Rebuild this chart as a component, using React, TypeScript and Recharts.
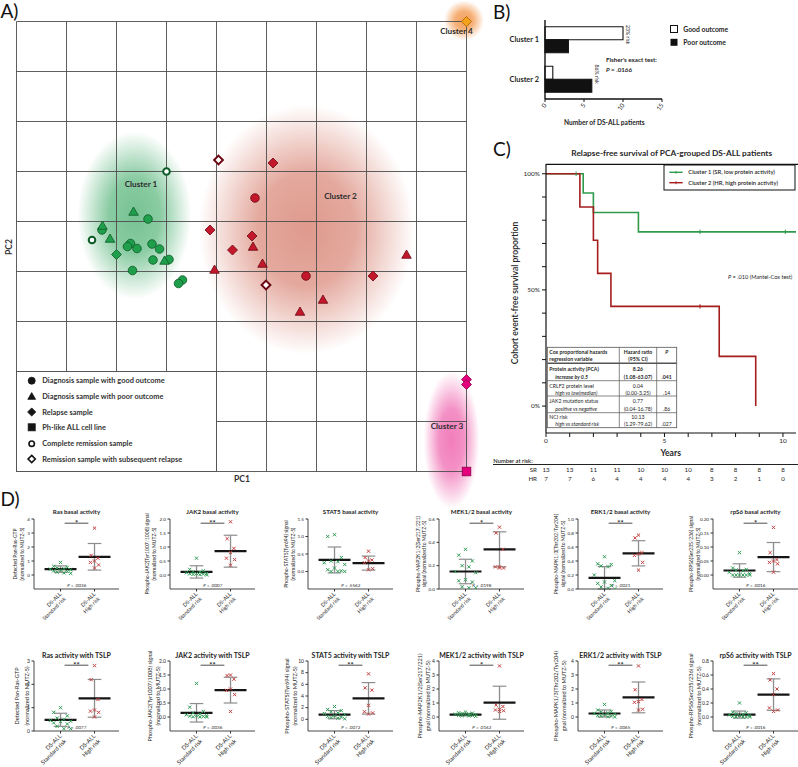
import React from "react";
import {
  ScatterChart,
  ComposedChart,
  BarChart,
  Scatter,
  Bar,
  Line,
  XAxis,
  YAxis,
  ReferenceArea,
  ReferenceDot,
  ReferenceLine,
} from "recharts";

const FONT = "Lato, 'Open Sans', 'DejaVu Sans', sans-serif";
const INK = "#262626";

/* ---------- A) PCA of protein activity ---------- */
const pcaTicks = [0, 1, 2, 3, 4, 5, 6, 7, 8, 9];

const c1Good = [
  { x: 2.63, y: 5.05 }, { x: 1.71, y: 4.83 }, { x: 2.28, y: 4.56 }, { x: 2.22, y: 4.5 },
  { x: 2.41, y: 4.46 }, { x: 2.71, y: 4.55 }, { x: 2.86, y: 4.45 }, { x: 2.73, y: 4.23 },
  { x: 3.05, y: 4.24 }, { x: 2.32, y: 4.02 }, { x: 3.32, y: 3.83 }, { x: 3.24, y: 3.76 },
];
const c1Poor = [{ x: 2.34, y: 5.19 }, { x: 1.72, y: 4.91 }, { x: 1.87, y: 4.65 }, { x: 2.96, y: 4.21 }];
const c1Relapse = [{ x: 2.0, y: 4.34 }];
const c1Remission = [{ x: 3.0, y: 6.0 }, { x: 1.51, y: 4.63 }];
const c2Good = [{ x: 4.77, y: 5.47 }, { x: 5.79, y: 3.91 }];
const c2Poor = [
  { x: 4.73, y: 4.49 }, { x: 4.92, y: 4.15 }, { x: 7.8, y: 4.33 },
  { x: 3.96, y: 4.03 }, { x: 6.13, y: 3.43 }, { x: 5.67, y: 3.19 },
];
const c2Relapse = [
  { x: 5.13, y: 6.17 }, { x: 3.87, y: 4.83 }, { x: 4.71, y: 4.71 }, { x: 4.32, y: 4.43 }, { x: 7.13, y: 3.91 },
];
const c2RemRelapse = [{ x: 4.04, y: 6.23 }, { x: 4.99, y: 3.73 }];
const c3Relapse = [{ x: 9, y: 1.84 }, { x: 9, y: 1.74 }];
const c3CellLine = [{ x: 9, y: 0 }];
const c4Relapse = [{ x: 9, y: 9 }];

const clusterNames = ["Cluster 1", "Cluster 2", "Cluster 3", "Cluster 4"];
// x1, x2, y1, y2 in PC units
const clusterExtents = [
  [1.22, 3.5, 3.44, 6.8],
  [3.64, 7.96, 2.34, 7.34],
  [8.14, 9.26, -0.75, 2.0],
  [8.55, 9.35, 8.62, 9.42],
];
const clusterLabelAt = [[2.49, 5.75], [6.48, 5.51], [8.61, 0.91], [8.8, 8.81]];

const legendLabels = [
  "Diagnosis sample with good outcome",
  "Diagnosis sample with poor outcome",
  "Relapse sample",
  "Ph-like ALL cell line",
  "Complete remission sample",
  "Remission sample with subsequent relapse",
];

/* ---------- B) outcome per cluster ---------- */
const outcomeClusters = ["Cluster 1", "Cluster 2"];
const goodOutcome = [10, 1];
const poorOutcome = [3, 6];
const riskText = ["23% risk", "86% risk"];

/* ---------- C) relapse-free survival ---------- */
const years = [0, 1, 2, 3, 4, 5, 6, 7, 8, 9, 10];
const srAtRisk = [13, 13, 11, 11, 10, 10, 10, 8, 8, 8, 8];
const hrAtRisk = [7, 7, 6, 4, 4, 4, 4, 3, 2, 1, 0];
const srCurve = [
  { t: 0, s: 1 }, { t: 1.57, s: 0.917 }, { t: 2.0, s: 0.833 }, { t: 3.9, s: 0.75 }, { t: 10.55, s: 0.75 },
];
const hrCurve = [
  { t: 0, s: 1 }, { t: 1.43, s: 0.857 }, { t: 2.0, s: 0.714 }, { t: 2.18, s: 0.571 },
  { t: 2.74, s: 0.429 }, { t: 7.31, s: 0.214 }, { t: 8.85, s: 0 },
];
const srCensored = [{ t: 1.27, s: 1 }, { t: 6.5, s: 0.75 }, { t: 10.1, s: 0.75 }];
const hrCensored = [{ t: 6.5, s: 0.429 }];
const survTicks = [0, 0.1, 0.2, 0.3, 0.4, 0.5, 0.6, 0.7, 0.8, 0.9, 1];

const coxVariables = [
  ["Protein activity (PCA)", "increase by 0.5"],
  ["CRLF2 protein level", "high vs low(median)"],
  ["JAK2 mutation status", "positive vs negative"],
  ["NCI risk", "high vs standard risk"],
];
const coxHR = ["8.26", "0.04", "0.77", "10.13"];
const coxCI = ["(1.08-63.07)", "(0.00-3.25)", "(0.04-16.78)", "(1.29-79.62)"];
const coxP = [".041", ".14", ".86", ".027"];

/* ---------- D) phospho-signalling dot plots ---------- */
const riskGroups = ["Standard risk", "High risk"];

const rasBasalSR = [0.9, 0.62, 0.55, 0.5, 0.45, 0.42, 0.38, 0.35, 0.3, 0.25, 0.2, 0.15, 0.12];
const rasBasalHR = [3.35, 1.4, 1.2, 1.0, 0.9, 0.72, 0.5];
const jak2BasalSR = [0.6, 0.2, 0.15, 0.12, 0.1, 0.08, 0.06, 0.05, 0.04, 0.03, 0.02, 0.01, 0.0];
const jak2BasalHR = [1.9, 1.3, 0.95, 0.8, 0.6, 0.55, 0.35];
const stat5BasalSR = [1.05, 1.0, 0.4, 0.3, 0.28, 0.25, 0.2, 0.1, 0.05, 0.02, 0.0, 0.0, 0.0];
const stat5BasalHR = [0.58, 0.4, 0.33, 0.3, 0.25, 0.08, 0.05];
const mekBasalSR = [0.34, 0.29, 0.24, 0.2, 0.19, 0.15, 0.14, 0.08, 0.07, 0.06, 0.02, 0.01, 0.01];
const mekBasalHR = [0.53, 0.48, 0.34, 0.19, 0.19, 0.18, 0.18];
const erkBasalSR = [0.46, 0.36, 0.35, 0.33, 0.32, 0.2, 0.12, 0.1, 0.08, 0.05, 0.03, 0.01, 0.0];
const erkBasalHR = [0.77, 0.73, 0.52, 0.5, 0.48, 0.38, 0.27];
const rps6BasalSR = [0.08, 0.025, 0.02, 0.018, 0.015, 0.01, 0.005, 0.0, 0.0, 0.0, 0.0, 0.0, 0.0];
const rps6BasalHR = [0.17, 0.08, 0.055, 0.05, 0.045, 0.04, 0.01];

const rasTslpSR = [1.0, 0.8, 0.65, 0.55, 0.5, 0.45, 0.42, 0.4, 0.35, 0.3, 0.2, 0.1, 0.1];
const rasTslpHR = [2.8, 2.2, 1.35, 0.9, 0.85, 0.8, 0.6];
const jak2TslpSR = [1.2, 0.35, 0.2, 0.15, 0.1, 0.08, 0.05, 0.04, 0.03, 0.02, 0.01, 0.0, 0.0];
const jak2TslpHR = [1.5, 1.48, 1.35, 1.0, 0.95, 0.8, 0.2];
const stat5TslpSR = [2.2, 1.7, 1.5, 1.3, 1.1, 1.0, 0.8, 0.6, 0.5, 0.4, 0.3, 0.2, 0.1];
const stat5TslpHR = [7.8, 5.4, 5.0, 2.4, 1.3, 1.1, 0.9];
const mekTslpSR = [0.35, 0.3, 0.28, 0.25, 0.22, 0.2, 0.18, 0.15, 0.12, 0.1, 0.1, 0.08, 0.05];
const mekTslpHR = [3.65, 0.85, 0.75, 0.55, 0.5, 0.45, 0.4];
const erkTslpSR = [0.9, 0.5, 0.4, 0.35, 0.3, 0.25, 0.2, 0.15, 0.1, 0.08, 0.05, 0.02, 0.0];
const erkTslpHR = [3.65, 1.95, 1.25, 1.1, 1.05, 0.55, 0.5];
const rps6TslpSR = [0.2, 0.07, 0.06, 0.05, 0.04, 0.03, 0.02, 0.02, 0.01, 0.0, 0.0, 0.0, 0.0];
const rps6TslpHR = [0.62, 0.53, 0.4, 0.32, 0.13, 0.1, 0.08];

// [standard risk, high risk]
const basalMeans = [[0.42, 1.3], [0.11, 0.85], [0.33, 0.24], [0.15, 0.34], [0.16, 0.51], [0.016, 0.064]];
const basalSds = [[0.23, 0.95], [0.22, 0.57], [0.37, 0.2], [0.105, 0.15], [0.16, 0.18], [0.024, 0.052]];
const tslpMeans = [[0.48, 1.4], [0.15, 0.96], [0.8, 3.6], [0.17, 1.02], [0.25, 1.4], [0.035, 0.32]];
const tslpSds = [[0.28, 0.81], [0.33, 0.46], [0.7, 2.7], [0.08, 1.18], [0.25, 1.1], [0.05, 0.225]];

const basalTitles = [
  "Ras basal activity", "JAK2 basal activity", "STAT5 basal activity",
  "MEK1/2 basal activity", "ERK1/2 basal activity", "rpS6 basal activity",
];
const tslpTitles = [
  "Ras activity with TSLP", "JAK2 activity with TSLP", "STAT5 activity with TSLP",
  "MEK1/2 activity with TSLP", "ERK1/2 activity with TSLP", "rpS6 activity with TSLP",
];
const basalYLabels = [
  ["Detected Pan-Ras-GTP", "(normalized to MUTZ-5)"],
  ["Phospho-JAK2(Tyr1007/1008) signal", "(normalized to MUTZ-5)"],
  ["Phospho-STAT5(Tyr694) signal", "(normalized to MUTZ-5)"],
  ["Phospho-MAP2K1/2(Ser217/221)", "signal (normalized to MUTZ-5)"],
  ["Phospho-MAPK1/3(Thr202/Tyr204)", "signal (normalized to MUTZ-5)"],
  ["Phospho-RPS6(Ser235/236) signal", "(normalized to MUTZ-5)"],
];
const tslpYLabels = [
  ["Detected Pan-Ras-GTP", "(normalized to MUTZ-5)"],
  ["Phospho-JAK2(Tyr1007/1008) signal", "(normalized to MUTZ-5)"],
  ["Phospho-STAT5(Tyr694) signal", "(normalized to MUTZ-5)"],
  ["Phospho-MAP2K1/2(Ser217/221)", "gnal (normalized to MUTZ-5)"],
  ["Phospho-MAPK1/3(Thr202/Tyr204)", "gnal (normalized to MUTZ-5)"],
  ["Phospho-RPS6(Ser235/236) signal", "(normalized to MUTZ-5)"],
];
const basalDomains = [[-1, 4], [-0.5, 2], [-0.5, 1.5], [0, 0.6], [0, 1], [-0.05, 0.2]];
const basalTicks = [[0, 1, 2, 3, 4], [0, 0.5, 1, 1.5, 2], [0, 0.5, 1, 1.5], [0, 0.2, 0.4, 0.6], [0, 0.2, 0.4, 0.6, 0.8, 1], [0, 0.05, 0.1, 0.15, 0.2]];
const basalDecimals = [0, 1, 1, 1, 1, 2];
const tslpDomains = [[0, 3], [-0.5, 2], [-2, 10], [-1, 4], [-1, 4], [-0.2, 0.8]];
const tslpTicks = [[0, 1, 2, 3], [0, 0.5, 1, 1.5, 2], [0, 2, 4, 6, 8, 10], [0, 1, 2, 3, 4], [0, 1, 2, 3, 4], [0, 0.2, 0.4, 0.6, 0.8]];
const tslpDecimals = [0, 1, 0, 0, 0, 1];
const basalStars = ["*", "**", "", "*", "**", "*"];
const tslpStars = ["**", "**", "**", "*", "**", "**"];
const basalP = [".0036", ".0007", ".5562", ".0198", ".0021", ".0016"];
const tslpP = [".0077", ".0036", ".0072", ".0162", ".0065", ".0016"];

const basalSR = [rasBasalSR, jak2BasalSR, stat5BasalSR, mekBasalSR, erkBasalSR, rps6BasalSR];
const basalHR = [rasBasalHR, jak2BasalHR, stat5BasalHR, mekBasalHR, erkBasalHR, rps6BasalHR];
const tslpSR = [rasTslpSR, jak2TslpSR, stat5TslpSR, mekTslpSR, erkTslpSR, rps6TslpSR];
const tslpHR = [rasTslpHR, jak2TslpHR, stat5TslpHR, mekTslpHR, erkTslpHR, rps6TslpHR];

// layout
const plotLefts = [34, 170, 308, 439, 578, 713];
const basalLabelX = [[-19, -11.3], [-22.7, -16], [-21.6, -15], [-21, -14.3], [-21.6, -15], [-21.6, -15]];
const tslpLabelX = [[-16.6, -7.3], [-20, -11.7], [-21, -13.3], [-18.6, -11], [-21.6, -14.3], [-21.6, -14]];
const jitterSR = [0, -0.2, 0.2, -0.1, 0.1, -0.3, 0.3, 0, -0.2, 0.2, -0.1, 0.1, 0.3];
const jitterHR = [0, -0.1, 0.1, 0, -0.12, 0.12, 0];

const TONES: Record<string, [string, string]> = {
  green: ["#1f9e4b", "#0e5a27"],
  red: ["#c3172b", "#6a0712"],
  pink: ["#e4007c", "#8c004a"],
  orange: ["#f4a11c", "#a86200"],
  black: ["#151515", "#151515"],
};
const blobColors = ["#2ea35a", "#c8503a", "#e8278d", "#f07a1a"];
const blobCore = [0.66, 0.58, 0.6, 0.7];

const pcaSeries = [
  { data: c1Good, kind: "circle", tone: "green" },
  { data: c1Poor, kind: "triangle", tone: "green" },
  { data: c1Relapse, kind: "diamond", tone: "green" },
  { data: c1Remission, kind: "ring", tone: "green" },
  { data: c2Good, kind: "circle", tone: "red" },
  { data: c2Poor, kind: "triangle", tone: "red" },
  { data: c2Relapse, kind: "diamond", tone: "red" },
  { data: c2RemRelapse, kind: "openDiamond", tone: "red" },
  { data: c3Relapse, kind: "diamond", tone: "pink" },
  { data: c3CellLine, kind: "square", tone: "pink" },
  { data: c4Relapse, kind: "diamond", tone: "orange" },
];
const legendKinds = ["circle", "triangle", "diamond", "square", "ring", "openDiamond"];

function Marker({ cx, cy, kind, tone, s = 1 }: any) {
  if (cx == null || cy == null) return null;
  const [fill, edge] = TONES[tone];
  const sw = 0.8;
  if (kind === "circle") return <circle cx={cx} cy={cy} r={4.3 * s} fill={fill} stroke={edge} strokeWidth={sw} />;
  if (kind === "triangle") {
    const r = 5 * s;
    return <polygon points={`${cx},${cy - r} ${cx + r * 0.95},${cy + r * 0.65} ${cx - r * 0.95},${cy + r * 0.65}`} fill={fill} stroke={edge} strokeWidth={sw} />;
  }
  if (kind === "diamond") {
    const r = 5 * s;
    return <polygon points={`${cx},${cy - r} ${cx + r},${cy} ${cx},${cy + r} ${cx - r},${cy}`} fill={fill} stroke={edge} strokeWidth={sw} />;
  }
  if (kind === "square") {
    const r = 4.3 * s;
    return <rect x={cx - r} y={cy - r} width={2 * r} height={2 * r} fill={fill} stroke={edge} strokeWidth={sw} />;
  }
  if (kind === "ring") return <circle cx={cx} cy={cy} r={3.3 * s} fill="#fff" stroke={edge} strokeWidth={2 * s} />;
  const r = 4.4 * s;
  return <polygon points={`${cx},${cy - r} ${cx + r},${cy} ${cx},${cy + r} ${cx - r},${cy}`} fill="#fff" stroke={edge} strokeWidth={2 * s} />;
}

function Blob({ x, y, width, height, id, color, core }: any) {
  if (x == null || y == null) return null;
  const w = Math.abs(width);
  const h = Math.abs(height);
  return (
    <g>
      <defs>
        <radialGradient id={id} cx="50%" cy="50%" r="50%">
          <stop offset="0%" stopColor={color} stopOpacity={core} />
          <stop offset="45%" stopColor={color} stopOpacity={core * 0.85} />
          <stop offset="100%" stopColor={color} stopOpacity={0} />
        </radialGradient>
      </defs>
      <ellipse cx={x + w / 2} cy={y + h / 2} rx={w / 2} ry={h / 2} fill={`url(#${id})`} />
    </g>
  );
}

function PcaPanel() {
  return (
    <div style={{ position: "absolute", left: 0, top: 0 }}>
      <ScatterChart width={500} height={520} margin={{ top: 21.5, right: 33.5, bottom: 48.5, left: 16.5 }}>
        <XAxis type="number" dataKey="x" domain={[0, 9]} ticks={pcaTicks} interval={0} height={0} tick={false} tickLine={false} axisLine={false} />
        <YAxis type="number" dataKey="y" domain={[0, 9]} ticks={pcaTicks} interval={0} width={0} tick={false} tickLine={false} axisLine={false} />
        {pcaTicks.map((v) => (
          <ReferenceLine key={`gx${v}`} x={v} stroke="#4d4d4d" strokeWidth={0.9} ifOverflow="visible" />
        ))}
        {pcaTicks.map((v) => (
          <ReferenceLine key={`gy${v}`} y={v} stroke="#4d4d4d" strokeWidth={0.9} ifOverflow="visible" />
        ))}
        {clusterExtents.map(([x1, x2, y1, y2], i) => (
          <ReferenceArea
            key={`blob${i}`}
            x1={x1}
            x2={x2}
            y1={y1}
            y2={y2}
            ifOverflow="visible"
            shape={(p: any) => <Blob {...p} id={`blob${i}`} color={blobColors[i]} core={blobCore[i]} />}
          />
        ))}
        {pcaSeries.map((s, i) => (
          <Scatter
            key={`s${i}`}
            data={s.data}
            isAnimationActive={false}
            shape={(p: any) => <Marker cx={p.cx} cy={p.cy} kind={s.kind} tone={s.tone} />}
          />
        ))}
        {clusterNames.map((n, i) => (
          <ReferenceDot
            key={n}
            x={clusterLabelAt[i][0]}
            y={clusterLabelAt[i][1]}
            r={0}
            ifOverflow="visible"
            label={{ value: n, position: "center", fontSize: 8.2, fontWeight: 700, fill: "#2d2d2d" }}
          />
        ))}
      </ScatterChart>
    </div>
  );
}

function Overlay() {
  const legendY = [380.7, 396.7, 412, 427.3, 443.7, 459];
  return (
    <svg width={798} height={767} style={{ position: "absolute", left: 0, top: 0, pointerEvents: "none" }}>
      <rect x={16.5} y={371.5} width={200} height={100} fill="#fff" stroke="#4d4d4d" strokeWidth={0.9} />
      {legendLabels.map((l, i) => (
        <g key={l}>
          <Marker cx={31.7} cy={legendY[i]} kind={legendKinds[i]} tone="black" s={0.82} />
          <text x={42.3} y={legendY[i] + 2.6} fontSize={7.4} fontWeight={700} fill="#333">{l}</text>
        </g>
      ))}
      <text x={242} y={482} textAnchor="middle" fontSize={8.6} fontWeight={700} fill="#333">PC1</text>
      <text transform="translate(11.5,247) rotate(-90)" textAnchor="middle" fontSize={8.6} fontWeight={700} fill="#333">PC2</text>
      <text x={0.5} y={17.5} fontSize={19} fill="#111">A)</text>
      <text x={493} y={19} fontSize={19} fill="#111">B)</text>
      <text x={493} y={155.5} fontSize={19} fill="#111">C)</text>
      <text x={0.5} y={505.5} fontSize={19} fill="#111">D)</text>
    </svg>
  );
}

/* ---------- B ---------- */
function SlantTick({ x, y, payload }: any) {
  return (
    <text x={x} y={y} transform={`rotate(-55 ${x} ${y})`} textAnchor="end" dy="0.35em" fontSize={6.2} fill={INK}>
      {payload.value}
    </text>
  );
}

function RiskNote({ viewBox, text }: any) {
  if (!viewBox) return null;
  const cx = viewBox.x + viewBox.width / 2 + 5;
  const cy = viewBox.y + viewBox.height / 2 - 5;
  return (
    <text transform={`translate(${cx},${cy}) rotate(90)`} textAnchor="middle" dy="0.35em" fontSize={5.2} fill={INK}>
      {text}
    </text>
  );
}

function OutcomePanel() {
  const barData = outcomeClusters.map((c, i) => ({ cluster: c, good: goodOutcome[i], poor: poorOutcome[i] }));
  return (
    <div style={{ position: "absolute", left: 460, top: 0 }}>
      <BarChart layout="vertical" width={338} height={130} data={barData} margin={{ top: 20, right: 136, left: 25, bottom: 0 }} barCategoryGap="17%" barGap={0}>
        <XAxis type="number" domain={[0, 15]} ticks={[0, 5, 10, 15]} interval={0} height={31} tickSize={3} tickMargin={2}
          axisLine={{ stroke: "#111", strokeWidth: 1.4 }} tickLine={{ stroke: "#111" }} tick={<SlantTick />} />
        <YAxis type="category" dataKey="cluster" width={60} tickLine={false} tickSize={0} tickMargin={6}
          axisLine={{ stroke: "#111", strokeWidth: 1.4 }} tick={{ fontSize: 7.4, fontWeight: 700, fill: INK }} />
        <Bar dataKey="good" fill="#fff" stroke="#111" strokeWidth={1.1} isAnimationActive={false} />
        <Bar dataKey="poor" fill="#111" stroke="#111" strokeWidth={1.1} isAnimationActive={false} />
        {outcomeClusters.map((c, i) => (
          <ReferenceDot key={c} y={c} x={Math.max(goodOutcome[i], poorOutcome[i])} r={0} ifOverflow="visible"
            label={<RiskNote text={riskText[i]} />} />
        ))}
        <rect x={210.5} y={25.5} width={7} height={7} fill="#fff" stroke="#111" strokeWidth={1} />
        <rect x={210.5} y={38.8} width={7} height={7} fill="#111" />
        <text x={223.3} y={31.6} fontSize={6.8} fontWeight={700} fill={INK}>Good outcome</text>
        <text x={223.3} y={44.9} fontSize={6.8} fontWeight={700} fill={INK}>Poor outcome</text>
        <text x={146} y={62} fontSize={6.2} fontWeight={700} fill={INK}>Fisher's exact test:</text>
        <text x={146} y={72} fontSize={6.2} fontWeight={700} fill={INK}>
          <tspan fontStyle="italic">P</tspan> = .0166
        </text>
        <text x={144.3} y={124.5} textAnchor="middle" fontSize={6.6} fontWeight={700} fill={INK}>Number of DS-ALL patients</text>
      </BarChart>
    </div>
  );
}

/* ---------- C ---------- */
function AtRiskTick({ x, y, payload }: any) {
  const i = years.indexOf(payload.value);
  return (
    <g>
      <text x={x} y={y + 11.5} textAnchor="middle" fontSize={6.2} fill={INK}>{srAtRisk[i]}</text>
      <text x={x} y={y + 21} textAnchor="middle" fontSize={6.2} fill={INK}>{hrAtRisk[i]}</text>
    </g>
  );
}

function CensorTick({ cx, cy, color }: any) {
  if (cx == null) return null;
  return <line x1={cx} x2={cx} y1={cy - 2.2} y2={cy + 2.2} stroke={color} strokeWidth={1} />;
}

const pctLabel = (v: number) => (v === 0 ? "0%" : v === 0.5 ? "50%" : v === 1 ? "100%" : "");
const SR_LINE = "#2f9a4c";
const HR_LINE = "#a51d1d";

function CoxTable() {
  const xs = [87.3, 159.3, 196.7, 216.7];
  const ys = [217.3, 233.3, 250.7, 266, 282.7, 297.7];
  const fs = 5.2;
  const c2 = (xs[1] + xs[2]) / 2;
  const c3 = (xs[2] + xs[3]) / 2;
  return (
    <g>
      <rect x={xs[0]} y={ys[0]} width={xs[3] - xs[0]} height={ys[5] - ys[0]} fill="#fff" stroke="#555" strokeWidth={0.8} />
      {ys.slice(1, 5).map((y, i) => (
        <line key={`h${i}`} x1={xs[0]} x2={xs[3]} y1={y} y2={y} stroke="#555" strokeWidth={i === 0 ? 1.4 : 0.7} />
      ))}
      <line x1={xs[1]} x2={xs[1]} y1={ys[0]} y2={ys[5]} stroke="#555" strokeWidth={0.7} />
      <line x1={xs[2]} x2={xs[2]} y1={ys[0]} y2={ys[5]} stroke="#555" strokeWidth={0.7} />
      <text x={xs[0] + 2} y={ys[0] + 6.2} fontSize={fs} fontWeight={700} fill={INK}>Cox proportional hazards</text>
      <text x={xs[0] + 2} y={ys[0] + 13.6} fontSize={fs} fontWeight={700} fill={INK}>regression variable</text>
      <text x={c2} y={ys[0] + 6.2} textAnchor="middle" fontSize={fs} fontWeight={700} fill={INK}>Hazard ratio</text>
      <text x={c2} y={ys[0] + 13.6} textAnchor="middle" fontSize={fs} fontWeight={700} fill={INK}>(95% CI)</text>
      <text x={c3} y={ys[0] + 6.2} textAnchor="middle" fontSize={fs} fontWeight={700} fontStyle="italic" fill={INK}>P</text>
      {coxVariables.map((v, i) => {
        const top = ys[i + 1];
        const h = ys[i + 2] - top;
        const y1 = top + h * 0.33 + 1.8;
        const y2 = top + h * 0.8 + 1.6;
        const w = i === 0 ? 700 : 400;
        return (
          <g key={v[0]}>
            <text x={xs[0] + 2} y={y1} fontSize={fs} fontWeight={w} fill={INK}>{v[0]}</text>
            <text x={xs[0] + 8} y={y2} fontSize={fs} fontWeight={w} fontStyle="italic" fill={INK}>{v[1]}</text>
            <text x={c2} y={y1} textAnchor="middle" fontSize={fs} fontWeight={w} fill={INK}>{coxHR[i]}</text>
            <text x={c2} y={y2} textAnchor="middle" fontSize={fs} fontWeight={w} fill={INK}>{coxCI[i]}</text>
            <text x={c3} y={y2} textAnchor="middle" fontSize={fs} fontWeight={w} fill={INK}>{coxP[i]}</text>
          </g>
        );
      })}
    </g>
  );
}

function SurvivalPanel() {
  return (
    <div style={{ position: "absolute", left: 460, top: 130 }}>
      <ComposedChart width={338} height={355} margin={{ top: 34, right: 2, left: 36, bottom: 0 }}>
        <XAxis xAxisId="b" type="number" dataKey="t" domain={[0, 10.55]} ticks={years} interval={0} height={25}
          axisLine={false} tickLine={false} tickSize={0} tickMargin={0} tick={<AtRiskTick />} allowDataOverflow />
        <XAxis xAxisId="a" type="number" dataKey="t" domain={[0, 10.55]} ticks={years} interval={0} height={27}
          tickFormatter={(v: number) => (v % 5 === 0 ? String(v) : "")} tickSize={4} tickMargin={1}
          axisLine={{ stroke: "#111", strokeWidth: 1.2 }} tickLine={{ stroke: "#111" }} tick={{ fontSize: 6.5, fill: INK }} allowDataOverflow />
        <YAxis type="number" dataKey="s" domain={[-0.116, 1.042]} ticks={survTicks} interval={0} width={50} tickSize={4} tickMargin={2}
          tickFormatter={pctLabel} axisLine={{ stroke: "#111", strokeWidth: 1.2 }} tickLine={{ stroke: "#111" }}
          tick={{ fontSize: 6.5, fill: INK }} allowDataOverflow />
        <Line xAxisId="a" data={srCurve} dataKey="s" type="stepAfter" stroke={SR_LINE} strokeWidth={1.6} dot={false} isAnimationActive={false} />
        <Line xAxisId="a" data={hrCurve} dataKey="s" type="stepAfter" stroke={HR_LINE} strokeWidth={1.6} dot={false} isAnimationActive={false} />
        <Scatter xAxisId="a" data={srCensored} isAnimationActive={false} shape={(p: any) => <CensorTick {...p} color={SR_LINE} />} />
        <Scatter xAxisId="b" data={hrCensored} isAnimationActive={false} shape={(p: any) => <CensorTick {...p} color={HR_LINE} />} />
        <line x1={86} x2={338} y1={34.3} y2={34.3} stroke="#111" strokeWidth={1.2} />
        <text x={211.7} y={26} textAnchor="middle" fontSize={8.3} fontWeight={700} fill={INK}>Relapse-free survival of PCA-grouped DS-ALL patients</text>
        <text transform="translate(58,163) rotate(-90)" textAnchor="middle" fontSize={8.6} fontWeight={600} fill={INK}>Cohort event-free survival proportion</text>
        <text x={210.7} y={325.5} textAnchor="middle" fontSize={8.6} fontWeight={700} fill={INK}>Years</text>
        <rect x={204} y={35} width={131} height={25} fill="#fff" stroke="#111" strokeWidth={1} />
        <line x1={209.3} x2={222.7} y1={42.3} y2={42.3} stroke={SR_LINE} strokeWidth={1.4} />
        <line x1={216} x2={216} y1={40.8} y2={43.8} stroke={SR_LINE} strokeWidth={0.8} />
        <line x1={209.3} x2={222.7} y1={52.7} y2={52.7} stroke={HR_LINE} strokeWidth={1.4} />
        <line x1={216} x2={216} y1={51.2} y2={54.2} stroke={HR_LINE} strokeWidth={0.8} />
        <text x={228.3} y={44.3} fontSize={5.8} fontWeight={600} fill={INK}>Cluster 1 (SR, low protein activity)</text>
        <text x={228.3} y={54.7} fontSize={5.8} fontWeight={600} fill={INK}>Cluster 2 (HR, high protein activity)</text>
        <text x={332.3} y={148.7} textAnchor="end" fontSize={5.6} fill={INK}>
          <tspan fontStyle="italic">P</tspan> = .010 (Mantel-Cox test)
        </text>
        <CoxTable />
        <text x={33.3} y={332.8} fontSize={5.8} fontWeight={600} fill={INK}>Number at risk:</text>
        <line x1={33} x2={338} y1={334.5} y2={334.5} stroke="#222" strokeWidth={1} />
        <text x={77} y={341.5} textAnchor="end" fontSize={6.2} fill={INK}>SR</text>
        <text x={77} y={351} textAnchor="end" fontSize={6.2} fill={INK}>HR</text>
      </ComposedChart>
    </div>
  );
}

/* ---------- D ---------- */
const AXIS_W = 40;
const PLOT_W = 85;
const PLOT_H = 70;
const M_TOP = 14;
const groupX = [1, 2];
const X_DOMAIN = [0.22, 2.72];
const SR_DOT = "#2f9b55";
const HR_DOT = "#c24040";

function GroupTick({ x, y, payload, fs }: any) {
  const label = riskGroups[payload.value - 1];
  return (
    <g transform={`translate(${x},${y})`}>
      <text transform="rotate(-45)" textAnchor="end" fontSize={fs} fill={INK}>
        <tspan x={0} dy="0.3em">DS-ALL</tspan>
        <tspan x={0} dy="1.2em">{label}</tspan>
      </text>
    </g>
  );
}

function Cross({ cx, cy, color }: any) {
  if (cx == null || cy == null) return null;
  const r = 1.6;
  return <path d={`M${cx - r},${cy - r}L${cx + r},${cy + r}M${cx - r},${cy + r}L${cx + r},${cy - r}`} stroke={color} strokeWidth={1} fill="none" />;
}

function DotPlot({ title, yLabel, sr, hr, mean, sd, domain, ticks, dec, stars, p, labelX, left, top, big }: any) {
  const xH = big ? 36 : 40;
  const [lo, hi] = domain;
  const span = hi - lo;
  const srPts = sr.map((v: number, i: number) => ({ x: 1 + jitterSR[i], y: v }));
  const hrPts = hr.map((v: number, i: number) => ({ x: 2 + jitterHR[i], y: v }));
  const bracketY = hi - 0.06 * span;
  const bracketPx = M_TOP + 0.06 * PLOT_H;
  const toPx = (u: number) => AXIS_W + (PLOT_W * (u - X_DOMAIN[0])) / (X_DOMAIN[1] - X_DOMAIN[0]);
  const midY = M_TOP + PLOT_H / 2;
  const refs: any[] = [];
  groupX.forEach((g, i) => {
    const a = mean[i] - sd[i];
    const b = mean[i] + sd[i];
    refs.push(<ReferenceLine key={`sd${i}`} segment={[{ x: g, y: a }, { x: g, y: b }]} stroke="#8d8d8d" strokeWidth={1.3} ifOverflow="visible" />);
    refs.push(<ReferenceLine key={`ca${i}`} segment={[{ x: g - 0.2, y: a }, { x: g + 0.2, y: a }]} stroke="#8d8d8d" strokeWidth={1.2} ifOverflow="visible" />);
    refs.push(<ReferenceLine key={`cb${i}`} segment={[{ x: g - 0.2, y: b }, { x: g + 0.2, y: b }]} stroke="#8d8d8d" strokeWidth={1.2} ifOverflow="visible" />);
    refs.push(<ReferenceLine key={`m${i}`} segment={[{ x: g - 0.47, y: mean[i] }, { x: g + 0.47, y: mean[i] }]} stroke="#151515" strokeWidth={2.2} ifOverflow="visible" />);
  });
  if (stars) {
    refs.push(<ReferenceLine key="br" segment={[{ x: 1.12, y: bracketY }, { x: 1.82, y: bracketY }]} stroke="#222" strokeWidth={0.8} ifOverflow="visible" />);
  }
  return (
    <div style={{ position: "absolute", left: left - AXIS_W, top }}>
      <ComposedChart width={AXIS_W + PLOT_W + 5} height={M_TOP + PLOT_H + xH} margin={{ top: M_TOP, right: 5, left: 0, bottom: 0 }}>
        <XAxis type="number" dataKey="x" domain={X_DOMAIN} ticks={groupX} interval={0} height={xH} tickSize={2.5} tickMargin={2}
          axisLine={{ stroke: "#333", strokeWidth: 0.9 }} tickLine={{ stroke: "#333" }} tick={<GroupTick fs={big ? 5.8 : 5.3} />} allowDataOverflow />
        <YAxis type="number" dataKey="y" domain={domain} ticks={ticks} interval={0} width={AXIS_W} tickSize={2.5} tickMargin={1.5}
          tickFormatter={(v: number) => v.toFixed(dec)} axisLine={{ stroke: "#333", strokeWidth: 0.9 }} tickLine={{ stroke: "#333" }}
          tick={{ fontSize: big ? 5 : 4.6, fill: INK }} allowDataOverflow />
        <Scatter data={srPts} isAnimationActive={false} shape={(q: any) => <Cross cx={q.cx} cy={q.cy} color={SR_DOT} />} />
        <Scatter data={hrPts} isAnimationActive={false} shape={(q: any) => <Cross cx={q.cx} cy={q.cy} color={HR_DOT} />} />
        {refs}
        <text x={AXIS_W + PLOT_W / 2} y={big ? 10.5 : 8.8} textAnchor="middle" fontSize={big ? 7 : 6.2} fontWeight={700} fill={INK}>{title}</text>
        <text transform={`translate(${AXIS_W + labelX[0]},${midY}) rotate(-90)`} textAnchor="middle" dy="0.35em" fontSize={big ? 5.6 : 5} fill={INK}>{yLabel[0]}</text>
        <text transform={`translate(${AXIS_W + labelX[1]},${midY}) rotate(-90)`} textAnchor="middle" dy="0.35em" fontSize={big ? 5.6 : 5} fill={INK}>{yLabel[1]}</text>
        {stars ? (
          <text x={toPx(1.47)} y={bracketPx + 2.4} textAnchor="middle" fontSize={7.5} fontWeight={700} fill={INK}>{stars}</text>
        ) : null}
        <text x={toPx(1.48)} y={M_TOP + PLOT_H - 2.2} textAnchor="middle" fontSize={4.5} fill={INK}>
          <tspan fontStyle="italic">P</tspan> = {p}
        </text>
      </ComposedChart>
    </div>
  );
}

export default function App() {
  return (
    <div style={{ position: "relative", width: 798, height: 767, overflow: "hidden", background: "#fff", fontFamily: FONT }}>
      <style>{"body{margin:0}"}</style>
      <PcaPanel />
      <Overlay />
      <OutcomePanel />
      <SurvivalPanel />
      {plotLefts.map((l, i) => (
        <DotPlot
          key={`b${i}`}
          title={basalTitles[i]}
          yLabel={basalYLabels[i]}
          sr={basalSR[i]}
          hr={basalHR[i]}
          mean={basalMeans[i]}
          sd={basalSds[i]}
          domain={basalDomains[i]}
          ticks={basalTicks[i]}
          dec={basalDecimals[i]}
          stars={basalStars[i]}
          p={basalP[i]}
          labelX={basalLabelX[i]}
          left={l}
          top={505}
          big={false}
        />
      ))}
      {plotLefts.map((l, i) => (
        <DotPlot
          key={`t${i}`}
          title={tslpTitles[i]}
          yLabel={tslpYLabels[i]}
          sr={tslpSR[i]}
          hr={tslpHR[i]}
          mean={tslpMeans[i]}
          sd={tslpSds[i]}
          domain={tslpDomains[i]}
          ticks={tslpTicks[i]}
          dec={tslpDecimals[i]}
          stars={tslpStars[i]}
          p={tslpP[i]}
          labelX={tslpLabelX[i]}
          left={l}
          top={647}
          big={true}
        />
      ))}
    </div>
  );
}
